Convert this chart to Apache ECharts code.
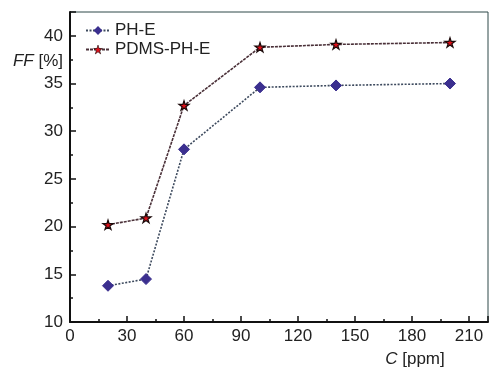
<!DOCTYPE html>
<html>
<head>
<meta charset="utf-8">
<script src="https://cdn.jsdelivr.net/npm/echarts@6/dist/echarts.min.js"></script>
<style>
  html, body { margin: 0; padding: 0; background: #fff; }
  #chart { width: 489px; height: 369px; }
</style>
</head>
<body>
<div id="chart"></div>
<script>
// 浓度 C [ppm]
var concentrations = [20, 40, 60, 100, 140, 200];
// FF [%]
var phE = [13.8, 14.5, 28.1, 34.6, 34.8, 35.0];
var pdmsPhE = [20.2, 20.9, 32.7, 38.8, 39.1, 39.3];

function pairs(xs, ys) {
    return xs.map(function(x, i) { return [x, ys[i]]; });
}

var myChart = echarts.init(document.getElementById('chart'));

var fontFam = '"Liberation Sans", Arial, sans-serif';
var axisColor = '#111';
var textColor = '#222';
var starPath = 'path://M50,0 L61,35 L98,35 L68,57 L79,91 L50,70 L21,91 L32,57 L2,35 L39,35 Z';

var option = {
    backgroundColor: '#fff',
    animation: false,
    grid: {
        left: 70, right: 1, top: 12, bottom: 47,
        show: true,
        borderColor: '#2e4848',
        borderWidth: 1
    },
    legend: {
        left: 80, top: 17,
        orient: 'vertical',
        itemGap: 2,
        itemWidth: 24,
        itemHeight: 11,
        textStyle: { fontFamily: fontFam, fontSize: 17, color: textColor },
        data: [
            { name: 'PH-E' },
            { name: 'PDMS-PH-E', itemStyle: { borderWidth: 0.6 } }
        ]
    },
    xAxis: {
        type: 'value',
        min: 0, max: 220, interval: 30,
        name: '{i|C} [ppm]',
        nameLocation: 'end',
        nameGap: -73,
        nameTextStyle: {
            fontFamily: fontFam, fontSize: 17, color: textColor,
            align: 'center', verticalAlign: 'top', padding: [29, 0, 0, 0],
            rich: { i: { fontStyle: 'italic', fontFamily: fontFam, fontSize: 17, color: textColor } }
        },
        splitLine: { show: false },
        axisLine: { lineStyle: { color: axisColor, width: 2 } },
        axisTick: { inside: true, length: 6, lineStyle: { color: axisColor, width: 1.5 } },
        minorTick: { show: true, splitNumber: 2, length: 3, lineStyle: { color: axisColor, width: 1.5 } },
        axisLabel: { fontFamily: fontFam, fontSize: 17, color: textColor, margin: 6, showMaxLabel: false }
    },
    yAxis: {
        type: 'value',
        min: 10, max: 42.5, interval: 5,
        name: '{i|FF} [%]',
        nameLocation: 'end',
        nameGap: -49,
        nameTextStyle: {
            fontFamily: fontFam, fontSize: 17, color: textColor,
            align: 'right', verticalAlign: 'middle', padding: [0, 7, 0, 0],
            rich: { i: { fontStyle: 'italic', fontFamily: fontFam, fontSize: 17, color: textColor } }
        },
        splitLine: { show: false },
        axisLine: { lineStyle: { color: axisColor, width: 2 } },
        axisTick: { inside: true, length: 6, lineStyle: { color: axisColor, width: 1.5 } },
        minorTick: { show: true, splitNumber: 2, length: 3, lineStyle: { color: axisColor, width: 1.5 } },
        axisLabel: { fontFamily: fontFam, fontSize: 17, color: textColor, margin: 7, showMaxLabel: false }
    },
    series: [
        {
            name: 'PH-E',
            type: 'line',
            data: pairs(concentrations, phE),
            symbol: 'diamond',
            symbolSize: 11,
            itemStyle: { color: '#3b2f8f', borderColor: '#3b2f8f' },
            lineStyle: { color: '#3d4a5e', width: 1.6, type: [2, 1.5] }
        },
        {
            name: 'PDMS-PH-E',
            type: 'line',
            data: pairs(concentrations, pdmsPhE),
            symbol: starPath,
            symbolSize: 10,
            symbolKeepAspect: true,
            itemStyle: { color: '#e0101a', borderColor: '#1a0a0a', borderWidth: 1.2 },
            lineStyle: { color: '#4a3038', width: 1.6, type: [3, 1] }
        }
    ]
};

myChart.setOption(option);
</script>
</body>
</html>
